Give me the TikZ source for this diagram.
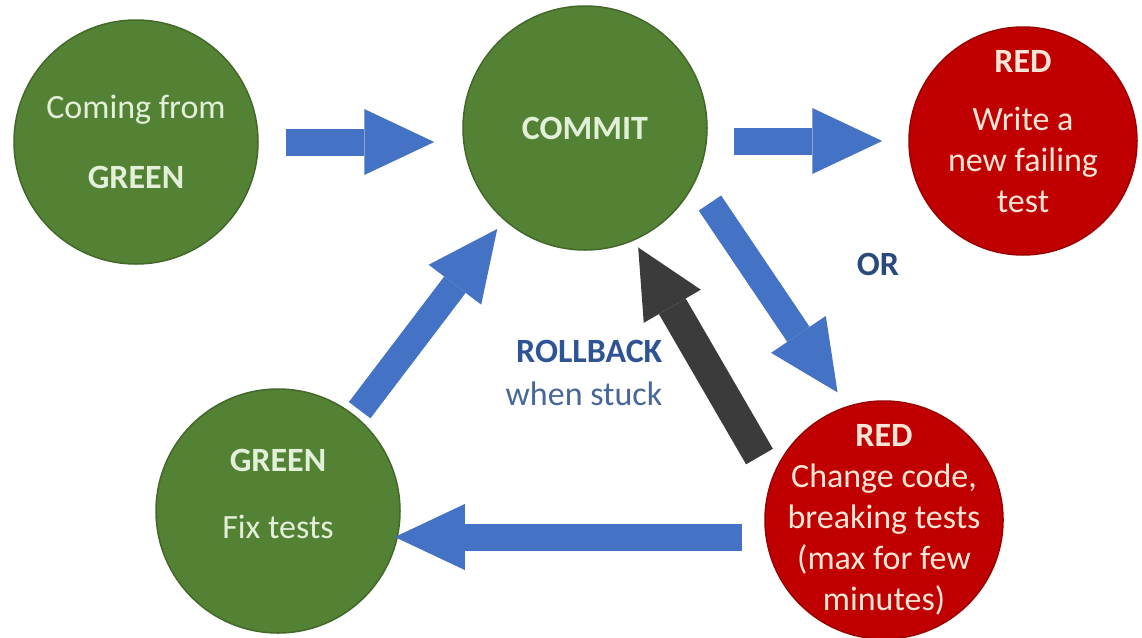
\documentclass[tikz,border=0pt]{standalone}
\usepackage{fontspec}
\setmainfont{Carlito}
\usetikzlibrary{arrows.meta}

\definecolor{ballgreen}{HTML}{548235}
\definecolor{ballred}{HTML}{C00000}
\definecolor{arrowblue}{HTML}{4472C4}
\definecolor{arrowgrey}{HTML}{3B3B3B}
\definecolor{greentext}{HTML}{E2F0D9}
\definecolor{redtext}{HTML}{FBE5D6}
\definecolor{orblue}{HTML}{2B4A7C}
\definecolor{rollblue}{HTML}{2F5496}
\definecolor{stuckblue}{HTML}{47669A}

\tikzset{
  ball/.style={circle, line width=1.5pt, align=center, inner sep=-40pt,
    font=\fontsize{34}{41}\selectfont},
  greenball/.style={ball, fill=ballgreen, draw=ballgreen!80!black, text=greentext},
  redball/.style={ball, fill=ballred, draw=ballred!80!black, text=redtext},
  bluearrow/.style={line width=27pt, draw=arrowblue,
    -{Triangle[length=70pt,width=66pt,line width=0pt]}},
  greyarrow/.style={line width=31pt, draw=arrowgrey,
    -{Triangle[length=68pt,width=66pt,line width=0pt]}},
}

\begin{document}
\begin{tikzpicture}[x=1pt,y=-1pt]
    \useasboundingbox (0,0) rectangle (1142,637);
    % the five states
    \node[greenball, minimum size=244pt] (from) at (136,142) {Coming from\\[29pt]\textbf{GREEN}};
    \node[greenball, minimum size=244pt] (commit) at (585,128) {\textbf{COMMIT}};
    \node[redball, minimum size=228pt, text depth=19pt] (redtop) at (1023,141)
        {\textbf{RED}\\[17pt]Write a\\new failing\\test};
    \node[greenball, minimum size=244pt, text depth=35pt] (fix) at (278,511)
        {\textbf{GREEN}\\[26pt]Fix tests};
    \node[redball, minimum size=238pt] (redbot) at (884,520)
        {\textbf{RED}\\Change code,\\breaking tests\\(max for few\\minutes)};
    % transitions
    \draw[bluearrow, shorten <=27pt, shorten >=28pt] (from.east) -- (from.east -| commit.west);
    \draw[bluearrow, shorten <=26pt, shorten >=26pt] (redtop.west -| commit.east) -- (redtop.west);
    \draw[bluearrow] ([shift={(-31:23pt)}]commit.-31) -- ([shift={(110:16pt)}]redbot.110);
    \draw[greyarrow] ([shift={(153:20pt)}]redbot.153) -- ([shift={(-66:8pt)}]commit.-66);
    \draw[bluearrow, shorten <=22pt, shorten >=-6pt] ([yshift=-17pt]redbot.west) -- ([yshift=-17pt]redbot.west -| fix.east);
    \draw[bluearrow] ([shift={(51:7pt)}]fix.51) -- ([shift={(-131:11pt)}]commit.-131);
    % labels
    \node[font=\fontsize{34}{41}\selectfont\bfseries, text=orblue] (or) at (878,264) {OR};
    \node[align=right, font=\fontsize{34}{43}\selectfont] (rollback) at (584,373)
        {\textcolor{rollblue}{\textbf{ROLLBACK}}\\\textcolor{stuckblue}{when stuck}};
\end{tikzpicture}
\end{document}
